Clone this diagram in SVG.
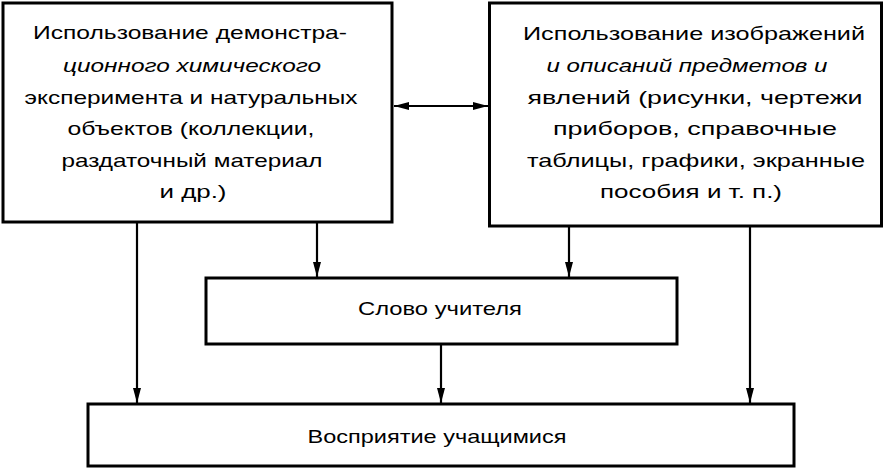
<svg xmlns="http://www.w3.org/2000/svg" width="885" height="468" viewBox="0 0 885 468">
<style>
.box{fill:#fff;stroke:#000;stroke-width:3}
.t{font-family:"Liberation Sans",Arial,sans-serif;font-size:19px;fill:#000;text-anchor:middle}
.i{font-style:italic}
.c{stroke:#000;stroke-width:2.2;fill:none}
</style>
<defs>
<marker id="ah" markerUnits="userSpaceOnUse" markerWidth="16" markerHeight="10" refX="15" refY="5" orient="auto-start-reverse">
<path d="M0,1 L15,5 L0,9 Z" fill="#000"/>
</marker>
</defs>
<rect width="885" height="468" fill="#fff"/>
<g id="connectors">
<line class="c" x1="394" y1="106" x2="488" y2="106" marker-start="url(#ah)" marker-end="url(#ah)"/>
<line class="c" x1="137" y1="223" x2="137" y2="403" marker-end="url(#ah)"/>
<line class="c" x1="317" y1="223" x2="317" y2="277" marker-end="url(#ah)"/>
<line class="c" x1="569" y1="227" x2="569" y2="277" marker-end="url(#ah)"/>
<line class="c" x1="750" y1="227" x2="750" y2="403" marker-end="url(#ah)"/>
<line class="c" x1="441" y1="345" x2="441" y2="403" marker-end="url(#ah)"/>
</g>
<g id="node-demo">
<rect class="box" x="3" y="3" width="389" height="219"/>
<text class="t" x="190" y="39" textLength="314" lengthAdjust="spacingAndGlyphs">Использование демонстра-</text>
<text class="t i" x="192" y="72" textLength="258" lengthAdjust="spacingAndGlyphs">ционного химического</text>
<text class="t" x="191" y="104" textLength="333" lengthAdjust="spacingAndGlyphs">эксперимента и натуральных</text>
<text class="t" x="191" y="135" textLength="247" lengthAdjust="spacingAndGlyphs">объектов (коллекции,</text>
<text class="t" x="192" y="167" textLength="261" lengthAdjust="spacingAndGlyphs">раздаточный материал</text>
<text class="t" x="193" y="198" textLength="67" lengthAdjust="spacingAndGlyphs">и др.)</text>
</g>
<g id="node-images">
<rect class="box" x="489.5" y="3" width="392" height="223"/>
<text class="t" x="694" y="40" textLength="342" lengthAdjust="spacingAndGlyphs">Использование изображений</text>
<text class="t i" x="687" y="72" textLength="281" lengthAdjust="spacingAndGlyphs">и описаний предметов и</text>
<text class="t" x="695" y="104" textLength="335" lengthAdjust="spacingAndGlyphs">явлений (рисунки, чертежи</text>
<text class="t" x="695" y="135" textLength="284" lengthAdjust="spacingAndGlyphs">приборов, справочные</text>
<text class="t" x="696" y="167" textLength="338" lengthAdjust="spacingAndGlyphs">таблицы, графики, экранные</text>
<text class="t" x="691" y="198" textLength="182" lengthAdjust="spacingAndGlyphs">пособия и т. п.)</text>
</g>
<g id="node-word">
<rect class="box" x="206" y="278" width="471" height="66"/>
<text class="t" x="440" y="315" textLength="164" lengthAdjust="spacingAndGlyphs">Слово учителя</text>
</g>
<g id="node-perception">
<rect class="box" x="88" y="404" width="706" height="62"/>
<text class="t" x="437" y="443" textLength="259" lengthAdjust="spacingAndGlyphs">Восприятие учащимися</text>
</g>
</svg>
